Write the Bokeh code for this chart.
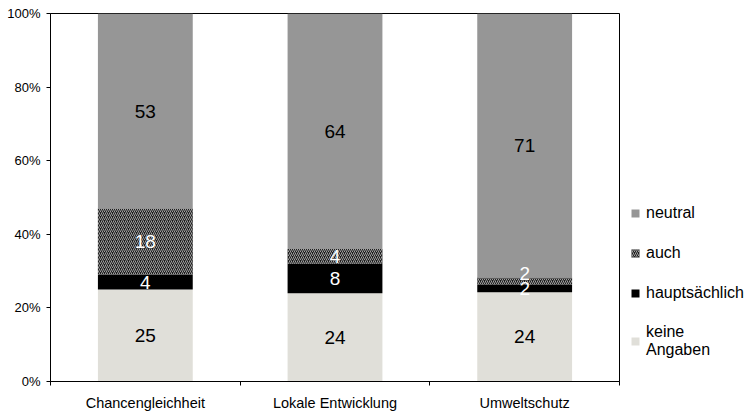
from bokeh.plotting import figure
from bokeh.models import (ColumnDataSource, FixedTicker, NumeralTickFormatter, Legend,
                          LegendItem, Range1d)
from bokeh.embed import file_html
from bokeh.resources import INLINE
from bokeh.core.properties import value

# ---- data ----
categories = ["Chancengleichheit", "Lokale Entwicklung", "Umweltschutz"]
keine_angaben = [25, 24, 24]
hauptsaechlich = [4, 8, 2]
auch = [18, 4, 2]
neutral = [53, 64, 71]
series_names = ["keine Angaben", "hauptsächlich", "auch", "neutral"]
y_ticks = [0, 0.2, 0.4, 0.6, 0.8, 1.0]

# ---- styles ----
FONT = "Liberation Sans"
series = [keine_angaben, hauptsaechlich, auch, neutral]
fills = ["#e0dfd9", "#000000", "#1c1c1c", "#969696"]
label_colors = ["black", "white", "white", "black"]

n = len(categories)
totals = [sum(s[i] for s in series) for i in range(n)]
xs = [i + 0.5 for i in range(n)]

p = figure(frame_width=569, frame_height=368, output_backend="svg", toolbar_location=None,
           x_range=Range1d(0, n), y_range=Range1d(0, 1),
           min_border_left=50, min_border_top=13, min_border_right=10, min_border_bottom=10)
p.xgrid.visible = False
p.ygrid.visible = False
p.outline_line_color = "black"
p.outline_line_width = 1
p.background_fill_color = "white"
p.border_fill_color = "white"

renderers = []
label_x, label_y, label_t, label_c, label_off = [], [], [], [], []
bottoms = [0.0] * n
for k, (s, name) in enumerate(zip(series, series_names)):
    fr = [s[i] / totals[i] for i in range(n)]
    tops = [bottoms[i] + fr[i] for i in range(n)]
    src = ColumnDataSource(dict(x=xs, bottom=list(bottoms), top=tops))
    kw = dict(x="x", bottom="bottom", top="top", width=0.5, source=src,
              fill_color=fills[k], line_color=None)
    if name == "auch":
        kw.update(hatch_pattern="right_diagonal_line", hatch_color="#a0a0a0",
                  hatch_scale=4, hatch_weight=1)
    r = p.vbar(**kw)
    renderers.append(r)
    for i in range(n):
        label_x.append(xs[i])
        label_y.append((bottoms[i] + tops[i]) / 2)
        label_t.append(str(s[i]))
        label_c.append(label_colors[k])
        # small stacked segments: shift upper label so both remain legible
        label_off.append(-8 if (name == "auch" and fr[i] < 0.03) else 0)
    bottoms = tops

lsrc = ColumnDataSource(dict(x=label_x, y=label_y, t=label_t, c=label_c, off=label_off))
p.text(x="x", y="y", text="t", text_color="c", y_offset="off", source=lsrc,
       text_align="center", text_baseline="middle",
       text_font=value(FONT), text_font_size="19px")

# y axis
p.yaxis.ticker = FixedTicker(ticks=y_ticks, minor_ticks=[])
p.yaxis.formatter = NumeralTickFormatter(format="0%")
p.yaxis.major_label_text_font = FONT
p.yaxis.major_label_text_font_size = "13px"
p.yaxis.major_label_text_color = "black"
p.yaxis.major_tick_in = 0
p.yaxis.major_tick_out = 4
p.yaxis.minor_tick_line_color = None
p.yaxis.axis_line_color = "black"
p.yaxis.major_tick_line_color = "black"
p.yaxis.major_label_standoff = 6

# x axis: labels at category centres, tick marks at category borders
p.xaxis.ticker = FixedTicker(ticks=xs, minor_ticks=list(range(n + 1)))
p.xaxis.major_label_overrides = {x: c for x, c in zip(xs, categories)}
p.xaxis.major_tick_line_color = None
p.xaxis.minor_tick_in = 0
p.xaxis.minor_tick_out = 4
p.xaxis.minor_tick_line_color = "black"
p.xaxis.axis_line_color = "black"
p.xaxis.major_label_text_font = FONT
p.xaxis.major_label_text_font_size = "14.5px"
p.xaxis.major_label_text_color = "black"
p.xaxis.major_label_standoff = 7

items = [LegendItem(label="keine\nAngaben" if nm == "keine Angaben" else nm, renderers=[r])
         for nm, r in zip(series_names, renderers)][::-1]
legend = Legend(items=items, location=(11, 22), orientation="vertical",
                padding=0, margin=0, spacing=20, glyph_width=10, glyph_height=10,
                label_height=20, label_standoff=6,
                label_text_font=FONT, label_text_font_size="16px",
                label_text_color="black",
                border_line_color=None, background_fill_alpha=0)
p.add_layout(legend, "right")

open("out.html", "w").write(file_html(p, INLINE))
